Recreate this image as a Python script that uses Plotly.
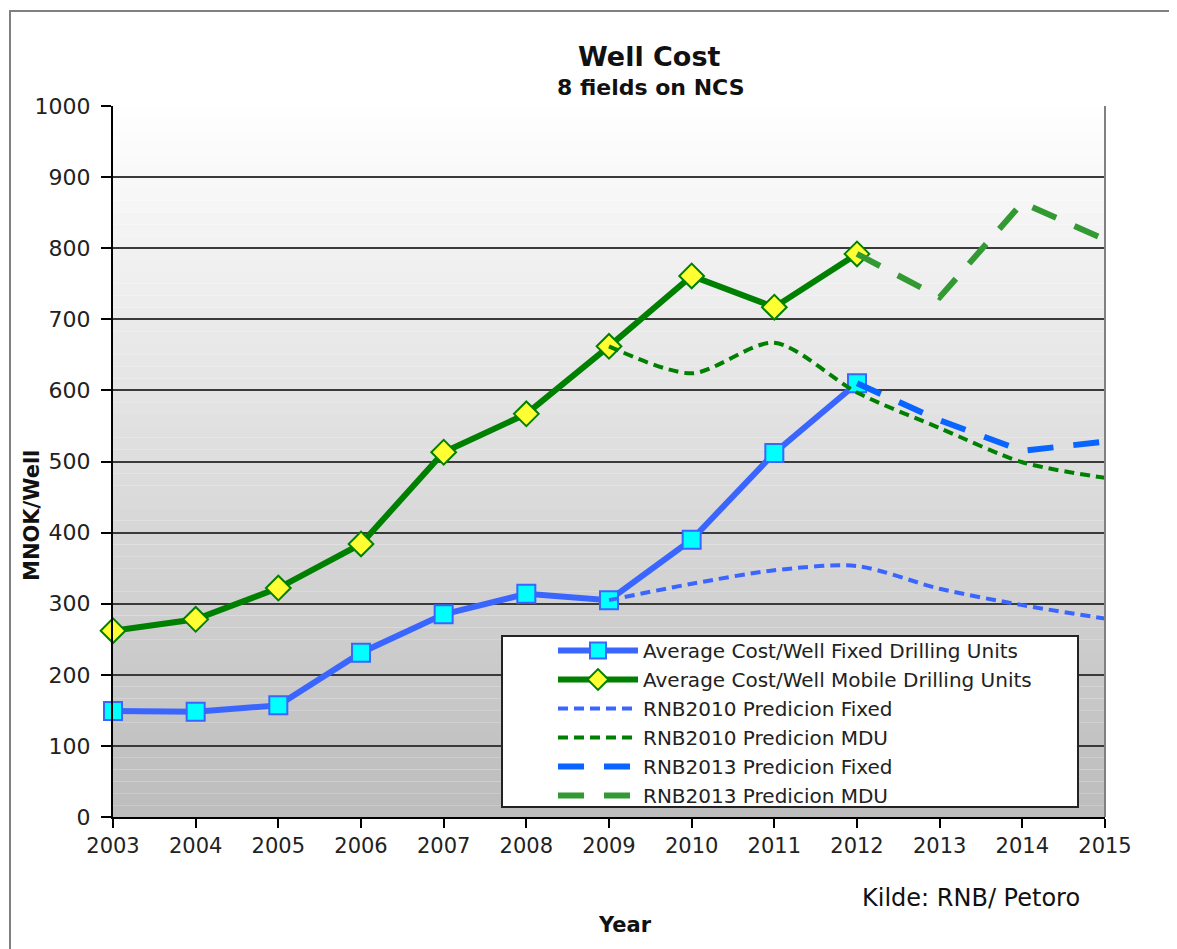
import plotly.graph_objects as go

years = [2003, 2004, 2005, 2006, 2007, 2008, 2009, 2010, 2011, 2012, 2013, 2014, 2015]
hist_years = years[:10]
fixed_cost = [149, 148, 157, 231, 285, 314, 305, 390, 512, 610]
mobile_cost = [262, 278, 322, 384, 513, 567, 662, 761, 717, 792]

rnb2010_years = [2009, 2010, 2011, 2012, 2013, 2014, 2015]
rnb2010_fixed = [305, 328, 347, 353, 321, 298, 279]
rnb2010_mdu = [662, 624, 667, 597, 547, 499, 477]

rnb2013_years = [2012, 2013, 2014, 2015]
rnb2013_fixed = [610, 558, 515, 528]
rnb2013_mdu = [792, 731, 864, 812]

y_ticks = [0, 100, 200, 300, 400, 500, 600, 700, 800, 900, 1000]

OFF = 8  # page offset of the plot div
W, H = 1177 - OFF, 949 - OFF
ML, MR, MT, MB = 113 - OFF, 72, 106 - OFF, 132
PW, PH = W - ML - MR, H - MT - MB


def px_x(p):
    return (p - OFF - ML) / PW


def px_y(p):
    return (H - MB - (p - OFF)) / PH


FONT = "DejaVu Sans"
BLUE = "#3a66ff"
GREEN = "#008000"

fig = go.Figure()
fig.add_trace(go.Scatter(
    x=hist_years, y=fixed_cost, mode="lines+markers", cliponaxis=False,
    name="Average Cost/Well Fixed Drilling Units", legendgroup="a",
    line=dict(color=BLUE, width=6),
    marker=dict(symbol="square", size=18, color="#00ffff", line=dict(color=BLUE, width=2)),
))
fig.add_trace(go.Scatter(
    x=hist_years, y=mobile_cost, mode="lines+markers", cliponaxis=False,
    name="Average Cost/Well Mobile Drilling Units", legendgroup="b",
    line=dict(color=GREEN, width=6),
    marker=dict(symbol="diamond", size=19, color="#ffff33", line=dict(color=GREEN, width=2)),
))
fig.add_trace(go.Scatter(
    x=rnb2010_years, y=rnb2010_fixed, mode="lines",
    name="RNB2010 Predicion Fixed", legendgroup="c",
    line=dict(color=BLUE, width=4, dash="10px,6px", shape="spline", smoothing=0.8),
))
fig.add_trace(go.Scatter(
    x=rnb2010_years, y=rnb2010_mdu, mode="lines",
    name="RNB2010 Predicion MDU", legendgroup="d",
    line=dict(color=GREEN, width=4, dash="10px,6px", shape="spline", smoothing=0.8),
))
fig.add_trace(go.Scatter(
    x=rnb2013_years, y=rnb2013_fixed, mode="lines",
    name="RNB2013 Predicion Fixed", legendgroup="e",
    line=dict(color="#0a64ff", width=6, dash="26px,20px"),
))
fig.add_trace(go.Scatter(
    x=rnb2013_years, y=rnb2013_mdu, mode="lines",
    name="RNB2013 Predicion MDU", legendgroup="f",
    line=dict(color="#339933", width=6, dash="26px,20px"),
))

shapes = []
# gradient background bands
n = 60
for i in range(n):
    v0 = 1000 * i / n
    v1 = 1000 * (i + 1) / n
    t = (i + 0.5) / n
    g = int(round(188 + (255 - 188) * t))
    shapes.append(dict(type="rect", xref="x domain", yref="y", x0=0, x1=1, y0=v0, y1=v1,
                       fillcolor=f"rgb({g},{g},{g})", line=dict(width=0), layer="below"))
# right border of plot area
shapes.append(dict(type="line", xref="x domain", yref="y domain", x0=1, x1=1, y0=0, y1=1,
                   line=dict(color="#808080", width=2)))
# outer frame (top + left)
shapes.append(dict(type="rect", xref="paper", yref="paper",
                   x0=px_x(10), x1=px_x(1300), y0=px_y(1100), y1=px_y(11),
                   line=dict(color="#808080", width=2), fillcolor="rgba(0,0,0,0)"))
# legend box
shapes.append(dict(type="rect", xref="paper", yref="paper",
                   x0=px_x(502), x1=px_x(1078), y0=px_y(807), y1=px_y(636),
                   line=dict(color="#222222", width=2), fillcolor="white", layer="above"))

annotations = [
    dict(text="<b>Well Cost</b>", x=px_x(649), y=px_y(56), xref="paper", yref="paper",
         showarrow=False, font=dict(family=FONT, size=27, color="#111"), xanchor="center", yanchor="middle"),
    dict(text="<b>8 fields on NCS</b>", x=px_x(650), y=px_y(87), xref="paper", yref="paper",
         showarrow=False, font=dict(family=FONT, size=22, color="#111"), xanchor="center", yanchor="middle"),
    dict(text="<b>MNOK/Well</b>", x=px_x(32), y=px_y(516), xref="paper", yref="paper", textangle=-90,
         showarrow=False, font=dict(family=FONT, size=21, color="#111"), xanchor="center", yanchor="middle"),
    dict(text="<b>Year</b>", x=px_x(625), y=px_y(925), xref="paper", yref="paper",
         showarrow=False, font=dict(family=FONT, size=21, color="#111"), xanchor="center", yanchor="middle"),
    dict(text="Kilde: RNB/ Petoro", x=px_x(860), y=px_y(898), xref="paper", yref="paper",
         showarrow=False, font=dict(family=FONT, size=24, color="#111"), xanchor="left", yanchor="middle"),
]

fig.update_layout(
    width=W, height=H,
    margin=dict(l=ML, r=MR, t=MT, b=MB, autoexpand=False),
    paper_bgcolor="white", plot_bgcolor="white",
    font=dict(family=FONT, size=21, color="#222"),
    shapes=shapes, annotations=annotations,
    showlegend=True,
    legend=dict(
        x=px_x(553), y=px_y(631), xanchor="left", yanchor="top",
        bgcolor="rgba(0,0,0,0)", borderwidth=0,
        font=dict(family=FONT, size=20, color="#222"),
        itemwidth=80, tracegroupgap=0,
    ),
    xaxis=dict(
        range=[2003, 2015], tickmode="array", tickvals=years, ticktext=[str(y) for y in years],
        showgrid=False, zeroline=False, showline=True, linecolor="black", linewidth=2,
        ticks="outside", ticklen=9, tickwidth=2, tickcolor="black",
        tickfont=dict(family=FONT, size=21, color="#222"),
    ),
    yaxis=dict(
        range=[0, 1000], tickmode="array", tickvals=y_ticks, ticktext=[str(v) for v in y_ticks],
        showgrid=True, gridcolor="#3a3a3a", gridwidth=1.5, zeroline=False,
        showline=True, linecolor="black", linewidth=2,
        ticks="outside", ticklen=10, tickwidth=2, tickcolor="black", ticklabelstandoff=6,
        tickfont=dict(family=FONT, size=22, color="#222"),
    ),
)

fig.write_html("out.html")
